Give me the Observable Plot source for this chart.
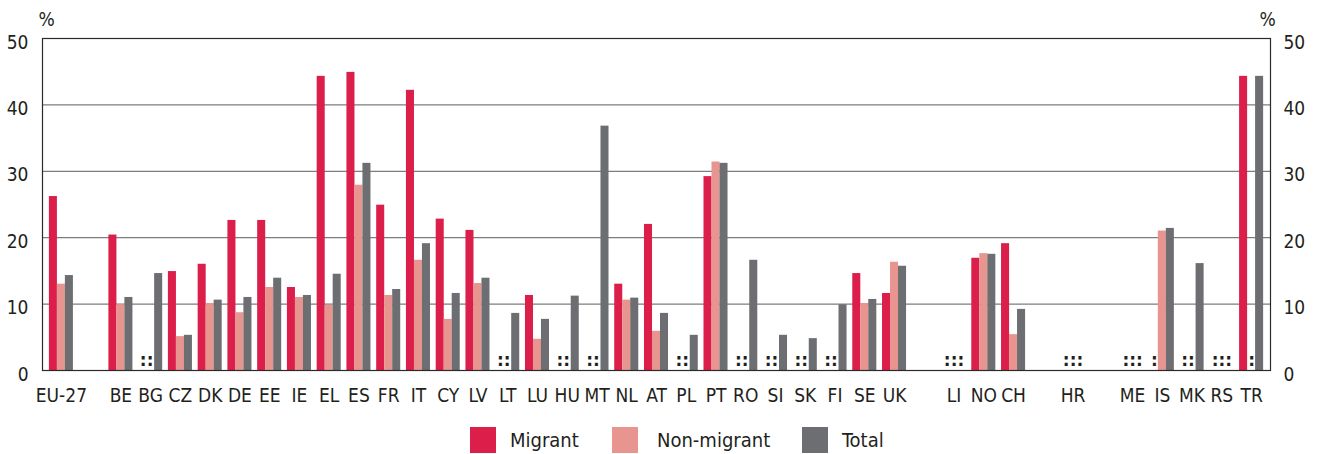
<!DOCTYPE html>
<html>
<head>
<meta charset="utf-8">
<script src="https://cdn.jsdelivr.net/npm/d3@7"></script>
<script src="https://cdn.jsdelivr.net/npm/@observablehq/plot@0.6"></script>
<style>
  html, body { margin: 0; padding: 0; background: #fff; }
  body { width: 1317px; height: 454px; overflow: hidden; font-family: "Liberation Sans Narrow", "DejaVu Sans Condensed", "Open Sans", sans-serif; color: #231f20; }
  #legend { position: relative; width: 1317px; height: 44px; }
  .sw { position: absolute; top: 17px; width: 26px; height: 26px; }
  .lt { position: absolute; top: 17px; height: 26px; line-height: 26px; font-size: 20px; }
</style>
</head>
<body>
<div id="chart"></div>
<div id="legend"></div>
<script>
// ---- data ----
const countries = ["EU-27","BE","BG","CZ","DK","DE","EE","IE","EL","ES","FR","IT","CY","LV","LT","LU","HU","MT","NL","AT","PL","PT","RO","SI","SK","FI","SE","UK","LI","NO","CH","HR","ME","IS","MK","RS","TR"];
const axisOrder = ["EU-27","gap1","BE","BG","CZ","DK","DE","EE","IE","EL","ES","FR","IT","CY","LV","LT","LU","HU","MT","NL","AT","PL","PT","RO","SI","SK","FI","SE","UK","gap2","LI","NO","CH","gap3","HR","gap4","ME","IS","MK","RS","TR"];
const migrant    = [26.2, 20.4, null, 14.9, 16.0, 22.6, 22.6, 12.5, 44.3, 44.9, 24.9, 42.2, 22.8, 21.1, null, 11.3, null, null, 13.0, 22.0, null, 29.2, null, null, null, null, 14.6, 11.6, null, 16.9, 19.1, null, null, null, null, null, 44.3];
const nonMigrant = [13.0, 9.9, null, 5.1, 10.1, 8.7, 12.5, 11.0, 9.8, 27.9, 11.3, 16.6, 7.7, 13.1, null, 4.7, null, null, 10.6, 5.9, null, 31.4, null, null, null, null, 10.1, 16.3, null, 17.6, 5.4, null, null, 21.0, null, null, null];
const total      = [14.3, 11.0, 14.6, 5.3, 10.6, 11.0, 13.9, 11.3, 14.5, 31.2, 12.2, 19.1, 11.6, 13.9, 8.6, 7.7, 11.2, 36.8, 10.9, 8.6, 5.3, 31.2, 16.6, 5.3, 4.8, 9.9, 10.7, 15.7, null, 17.5, 9.2, null, null, 21.4, 16.1, null, 44.3];
const yTicks = [0, 10, 20, 30, 40, 50];
const seriesNames = ["Migrant", "Non-migrant", "Total"];
const seriesColors = ["#db1f4a", "#e8948f", "#6d6e71"];

// ---- build ----
const seriesValues = [migrant, nonMigrant, total];
const offsets = [-8, 0, 8];
const font = '"Liberation Sans Narrow", "DejaVu Sans Condensed", "Open Sans", sans-serif';

const barMarks = seriesValues.map((vals, s) =>
  Plot.barY(
    countries.map((c, i) => ({country: c, value: vals[i]})).filter(d => d.value != null),
    {x: "country", y: "value", fill: seriesColors[s], dx: offsets[s]}
  )
);

// missing-value markers ":" grouped by position
const missing = countries.map((c, i) => {
  const idx = [0, 1, 2].filter(s => seriesValues[s][i] == null);
  if (!idx.length) return null;
  const off = idx.reduce((a, s) => a + offsets[s], 0) / idx.length;
  return {country: c, label: ":".repeat(idx.length), off};
}).filter(Boolean);
const offGroups = [...new Set(missing.map(d => d.off))];
const missingMarks = offGroups.map(o =>
  Plot.text(missing.filter(d => d.off === o), {
    x: "country", y: () => 0, text: "label", dx: o, dy: -5,
    lineAnchor: "bottom", fontSize: 17, fontWeight: "bold",
    fontFamily: "DejaVu Sans", fill: "#231f20"
  })
);

const chart = Plot.plot({
  width: 1317,
  height: 410,
  marginLeft: 42,
  marginRight: 47,
  marginTop: 38,
  marginBottom: 40,
  style: {fontFamily: font, fontSize: "19px", color: "#231f20", background: "#fff"},
  x: {type: "band", domain: axisOrder, paddingInner: 0.73, paddingOuter: 0.5},
  y: {domain: [0, 50]},
  marks: [
    Plot.ruleY([10, 20, 30, 40], {stroke: "#7d7d7d", strokeWidth: 1.3}),
    ...barMarks,
    ...missingMarks,
    Plot.frame({stroke: "#2a2a2a", strokeWidth: 1.2}),
    Plot.axisY({anchor: "left", ticks: yTicks, tickSize: 0, tickPadding: 14, label: null, dy: 4, fill: "#231f20"}),
    Plot.axisY({anchor: "right", ticks: yTicks, tickSize: 0, tickPadding: 13, label: null, dy: 4, fill: "#231f20"}),
    Plot.axisX({tickSize: 0, tickPadding: 18, label: null, tickFormat: d => d.startsWith("gap") ? "" : d, fill: "#231f20"}),
    Plot.text(["%"], {frameAnchor: "top-left", dx: 4, dy: -19, lineAnchor: "middle", textAnchor: "middle", fill: "#231f20"}),
    Plot.text(["%"], {frameAnchor: "top-right", dx: -3, dy: -19, lineAnchor: "middle", textAnchor: "middle", fill: "#231f20"})
  ]
});
document.getElementById("chart").appendChild(chart);

// legend
const legend = document.getElementById("legend");
const swLeft = [470, 612, 802];
const txLeft = [510, 657, 842];
seriesNames.forEach((n, i) => {
  const sw = document.createElement("div");
  sw.className = "sw"; sw.style.left = swLeft[i] + "px"; sw.style.background = seriesColors[i];
  legend.appendChild(sw);
  const t = document.createElement("div");
  t.className = "lt"; t.style.left = txLeft[i] + "px"; t.textContent = n;
  legend.appendChild(t);
});
</script>
</body>
</html>
